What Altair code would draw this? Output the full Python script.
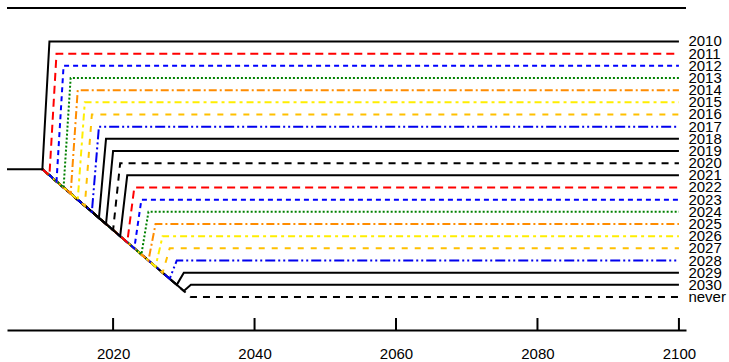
import altair as alt
import pandas as pd

# Scenario labels, top to bottom; each policy year lifts its path to a new plateau
labels = ["2010", "2011", "2012", "2013", "2014", "2015", "2016", "2017", "2018",
          "2019", "2020", "2021", "2022", "2023", "2024", "2025", "2026", "2027",
          "2028", "2029", "2030", "never"]
policy_years = [2010, 2011, 2012, 2013, 2014, 2015, 2016, 2017, 2018, 2019, 2020,
                2021, 2022, 2023, 2024, 2025, 2026, 2027, 2028, 2029, 2030, None]
plateau_levels = [22.0, 21.0, 20.0, 19.0, 18.0, 17.0, 16.0, 15.0, 14.0, 13.0, 12.0,
                  11.0, 10.0, 9.0, 8.0, 7.0, 6.0, 5.0, 4.0, 3.0, 2.0, 1.0]

# Shared declining trend followed until the policy year
trend_years = [2010, 2011, 2012, 2013, 2014, 2015, 2016, 2017, 2018, 2019, 2020,
               2021, 2022, 2023, 2024, 2025, 2026, 2027, 2028, 2029, 2030, 2031]
trend_values = [11.5, 11.0, 10.5, 10.0, 9.5, 9.0, 8.5, 8.0, 7.5, 7.0, 6.5,
                6.0, 5.5, 5.0, 4.5, 4.0, 3.5, 3.0, 2.5, 2.0, 1.5, 1.0]
start_year = 2005
start_value = 11.5
end_year = 2100

tick_years = [2020, 2040, 2060, 2080, 2100]

# Line styles cycle with period 11
cycle_colors = ["#000000", "#ff0000", "#0000ff", "#008000", "#ff8c00", "#ffee00",
                "#ffc000", "#0000ee", "#000000", "#000000", "#000000"]
cycle_dashes = [None, [8, 5], [5, 4], [2, 2], [8, 3, 2, 3], [7, 4, 3, 4],
                [6, 7], [10, 3, 2, 3, 2, 3], None, None, [7, 6]]

W, H = 679, 322
x_scale = alt.Scale(domain=[2005, 2101], nice=False, zero=False)
y_scale = alt.Scale(domain=[-1.71, 24.75], nice=False, zero=False)
x_enc = alt.X("year:Q", scale=x_scale,
              axis=alt.Axis(values=tick_years, format="d", title=None, grid=False,
                            ticks=False, labelFont="Liberation Sans", labelFontSize=15,
                            labelColor="black", labelPadding=16, domainColor="black",
                            domainWidth=2, labelFlush=False))
y_enc = alt.Y("value:Q", scale=y_scale, axis=None)


def path_for(i):
    # the common flat start is drawn only once, by the first scenario
    pts = [(start_year, start_value)] if i == 0 else []
    t = policy_years[i]
    for yr, v in zip(trend_years, trend_values):
        if t is None or yr <= t:
            pts.append((yr, v))
    if t is not None:
        pts.append((t + 1, plateau_levels[i]))
    pts.append((end_year, plateau_levels[i]))
    return pd.DataFrame({"year": [p[0] for p in pts],
                         "value": [p[1] for p in pts],
                         "step": list(range(len(pts)))})


layers = []
# drawn from the last scenario to the first so earlier ones sit on top
for i in reversed(range(len(labels))):
    color = cycle_colors[i % 11]
    dash = cycle_dashes[i % 11]
    kw = dict(color=color, strokeWidth=2, strokeCap="butt", strokeJoin="miter")
    if dash is not None:
        kw["strokeDash"] = dash
    layers.append(
        alt.Chart(path_for(i)).mark_line(**kw).encode(x=x_enc, y=y_enc, order="step:Q")
    )

label_df = pd.DataFrame({"label": labels, "value": plateau_levels,
                         "year": [end_year] * len(labels)})
text_layer = alt.Chart(label_df).mark_text(
    align="left", baseline="middle", dx=9.5, font="Liberation Sans", fontSize=15,
    color="black"
).encode(x=x_enc, y=y_enc, text="label:N")

tick_layer = alt.Chart(pd.DataFrame({"year": tick_years})).mark_rule(
    color="black", strokeWidth=2
).encode(x=x_enc, y=alt.value(H), y2=alt.value(H - 12))

top_layer = alt.Chart(pd.DataFrame({"year": [2005]})).mark_rule(
    color="black", strokeWidth=2
).encode(x=alt.value(0), x2=alt.value(W), y=alt.value(0))

chart = alt.layer(top_layer, tick_layer, *layers, text_layer).properties(
    width=W, height=H,
    autosize=alt.AutoSizeParams(type="none"),
    padding={"left": 7, "top": 8, "right": 43, "bottom": 32},
).configure_view(stroke=None)

chart.save("out.html", embed_options={"renderer": "svg", "actions": False})
